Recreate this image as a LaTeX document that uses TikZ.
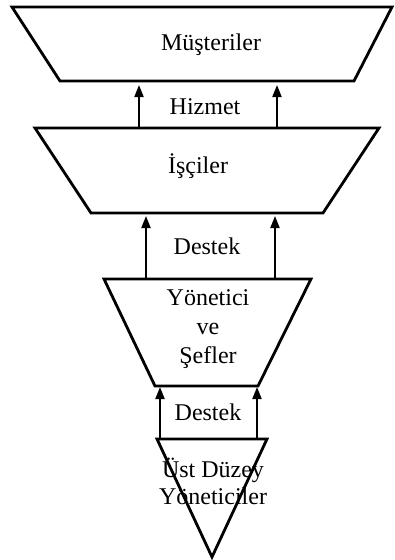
\documentclass[tikz,border=0pt]{standalone}
\usepackage{fontspec}
\setmainfont{Liberation Serif}
\usetikzlibrary{arrows.meta}
\begin{document}
\begin{tikzpicture}[x=1pt,y=-1pt,
  shapeline/.style={line width=2.8pt,line join=miter},
  lbl/.style={font=\fontsize{24}{28}\selectfont,inner sep=0pt,align=center},
  uparrow/.style={line width=2pt,-{Triangle[length=12pt,width=9pt]}}]
\useasboundingbox (0,0) rectangle (395,560);
% top trapezoid
\coordinate (m1) at (12,7); \coordinate (m2) at (392,7);
\coordinate (m3) at (354,81); \coordinate (m4) at (60,81);
\draw[shapeline] (m1) -- (m2) -- (m3) -- (m4) -- cycle;
\node[lbl] (must) at (211,45) {Müşteriler};
% second trapezoid
\coordinate (i1) at (35,128); \coordinate (i2) at (379,128);
\coordinate (i3) at (323,213); \coordinate (i4) at (91,213);
\draw[shapeline] (i1) -- (i2) -- (i3) -- (i4) -- cycle;
\node[lbl] (isci) at (198,166) {İşçiler};
% third trapezoid
\coordinate (y1) at (104,279); \coordinate (y2) at (311,279);
\coordinate (y3) at (258,386); \coordinate (y4) at (155,386);
\draw[shapeline] (y1) -- (y2) -- (y3) -- (y4) -- cycle;
\node[lbl] (yon) at (208,329) {Yönetici\\[1pt]ve\\[1pt]Şefler};
% triangle
\coordinate (t1) at (157,439); \coordinate (t2) at (267,439);
\coordinate (t3) at (212,557);
\draw[shapeline] (t1) -- (t2) -- (t3) -- cycle;
\node[lbl] (ust) at (213,481) {Üst Düzey\\[-1pt]Yöneticiler};
% arrows and labels
\coordinate (a1s) at (139,128); \coordinate (a1e) at (139,85);
\coordinate (a2s) at (277,128); \coordinate (a2e) at (277,85);
\draw[uparrow] (a1s) -- (a1e);
\draw[uparrow] (a2s) -- (a2e);
\node[lbl] (hiz) at (205,107) {Hizmet};
\coordinate (b1s) at (146,279); \coordinate (b1e) at (146,216);
\coordinate (b2s) at (275,279); \coordinate (b2e) at (275,216);
\draw[uparrow] (b1s) -- (b1e);
\draw[uparrow] (b2s) -- (b2e);
\node[lbl] (des1) at (207,246) {Destek};
\coordinate (c1s) at (160,439); \coordinate (c1e) at (160,387);
\coordinate (c2s) at (257,439); \coordinate (c2e) at (257,387);
\draw[uparrow] (c1s) -- (c1e);
\draw[uparrow] (c2s) -- (c2e);
\node[lbl] (des2) at (208,412) {Destek};
\end{tikzpicture}
\end{document}
